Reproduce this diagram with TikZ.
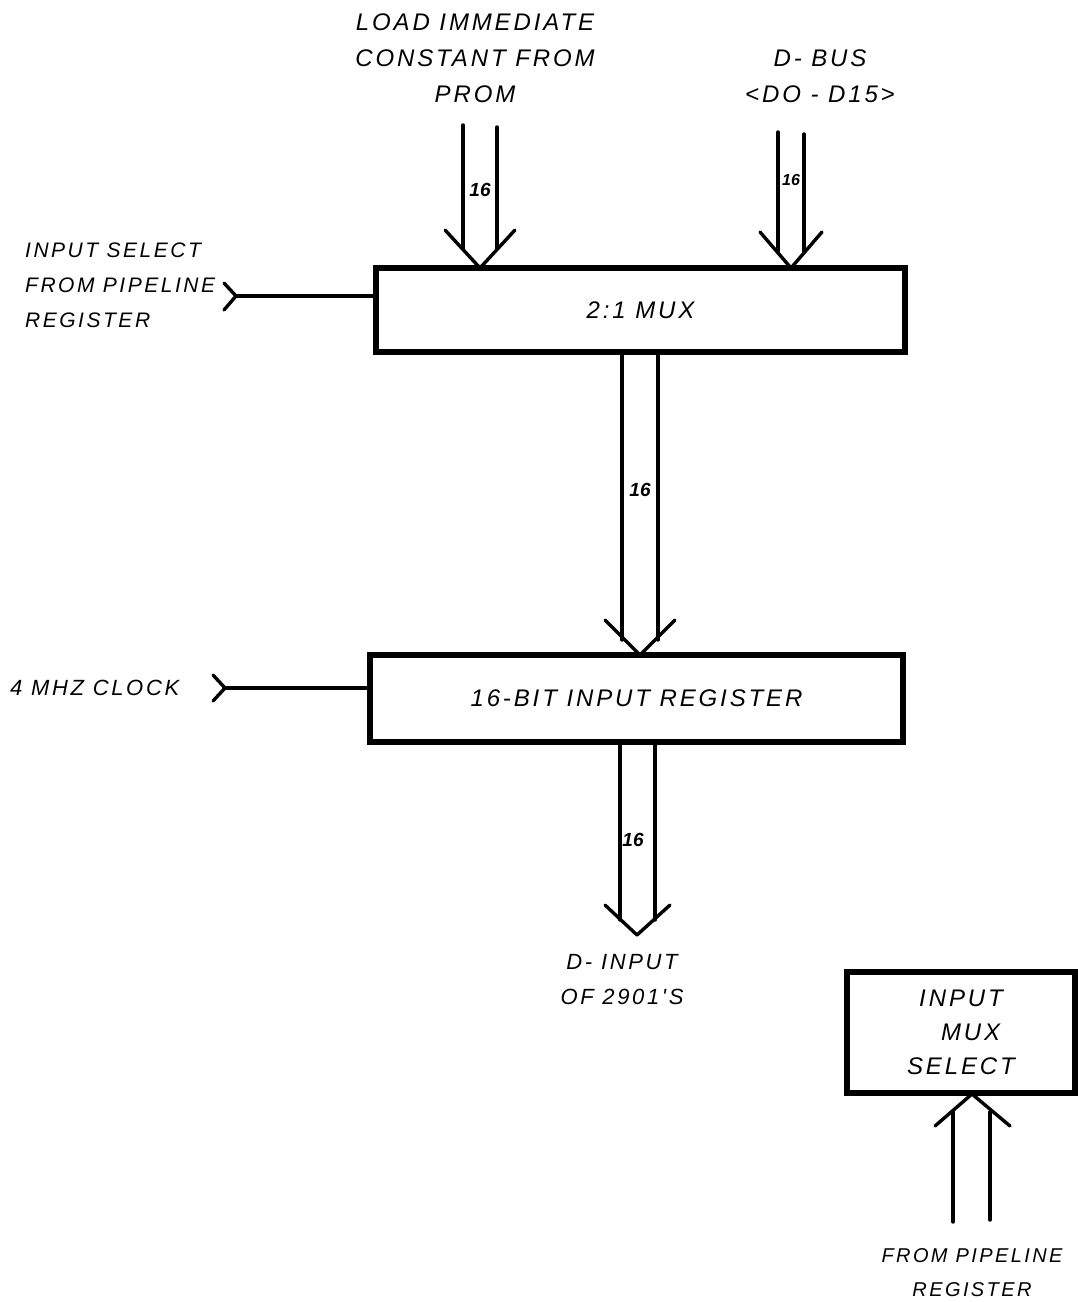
\documentclass[tikz,border=0pt]{standalone}
\usepackage{fontspec}
\setmainfont{Liberation Sans}
\newfontfamily\hand[LetterSpace=12]{Liberation Sans}
\newfontfamily\handnum{Liberation Sans}
\usetikzlibrary{calc}
\begin{document}
\begin{tikzpicture}[x=1pt,y=-1pt,
  txt/.style={font=\hand\itshape\fontsize{24}{36}\selectfont, align=center, inner sep=0pt},
  lft/.style={font=\hand\itshape\fontsize{21}{35}\selectfont, align=left, inner sep=0pt},
  small/.style={font=\handnum\bfseries\itshape\fontsize{19}{20}\selectfont, inner sep=0pt},
  box/.style={draw, line width=6pt, inner sep=0pt, font=\hand\itshape\fontsize{24}{36}\selectfont, align=center},
  busline/.style={line width=3.4pt, line cap=round, line join=round},
  wire/.style={line width=3.4pt, line cap=round, line join=round}]
\useasboundingbox (0,0) rectangle (1078,1302);
\fill[white] (0,0) rectangle (1078,1302);

% boxes
\node[box, minimum width=529pt, minimum height=84pt] (mux) at (640.5,310) {2:1 MUX};
\node[box, minimum width=533pt, minimum height=87pt] (reg) at (636.5,698.5) {16-BIT INPUT REGISTER};
\node[box, minimum width=228pt, minimum height=121pt] (msel) at (961,1032.5) {INPUT\\[-2pt]\ \ MUX\\[-2pt]SELECT};

% labels
\node[txt] (lprom) at (475,58) {LOAD IMMEDIATE\\CONSTANT FROM\\PROM};
\node[txt] (ldbus) at (820,76) {D- BUS\\<DO - D15>};
\node[lft, anchor=west] (lsel) at (25,285) {INPUT SELECT\\FROM PIPELINE\\REGISTER};
\node[lft, anchor=west, font=\hand\itshape\fontsize{22}{35}\selectfont] (lclk) at (10,688) {4 MHZ CLOCK};
\node[txt, font=\hand\itshape\fontsize{22}{35}\selectfont] (lout) at (622,980) {D- INPUT\\OF 2901'S};
\node[txt, font=\hand\itshape\fontsize{20}{34}\selectfont] (lpipe) at (972,1273) {FROM PIPELINE\\REGISTER};

% arrow 1: PROM -> MUX
\coordinate (p1) at (480,268);
\draw[busline] (463,125) -- (463,249);
\draw[busline] (497,127) -- (497,249);
\draw[busline] (445,230) -- (p1) -- (515,230);
\node[small] (n1) at (480,190) {16};

% arrow 2: D-BUS -> MUX
\coordinate (p2) at (791,268);
\draw[busline] (778,132) -- (778,252);
\draw[busline] (804,134) -- (804,252);
\draw[busline] (760,232) -- (p2) -- (822,232);
\node[small, font=\handnum\bfseries\itshape\fontsize{16}{18}\selectfont] (n2) at (791,180) {16};

% arrow 3: MUX -> REG
\coordinate (p3) at (640,655);
\draw[busline] (mux.south -| 622,0) -- (622,640);
\draw[busline] (mux.south -| 658,0) -- (658,640);
\draw[busline] (605,620) -- (p3) -- (675,620);
\node[small] (n3) at (640,490) {16};

% arrow 4: REG -> D-input
\coordinate (p4) at (637,935);
\draw[busline] (reg.south -| 620,0) -- (620,920);
\draw[busline] (reg.south -| 655,0) -- (655,920);
\draw[busline] (605,905) -- (p4) -- (670,905);
\node[small] (n4) at (633,840) {16};

% arrow 5: pipeline -> INPUT MUX SELECT
\coordinate (p5) at (972,1094);
\draw[busline] (953,1222) -- (953,1112);
\draw[busline] (990,1220) -- (990,1112);
\draw[busline] (935,1126) -- (p5) -- (1010,1126);

% input select wire
\coordinate (cs) at (236,296);
\draw[wire] (224,283) -- (cs) -- (224,310);
\draw[wire] (cs) -- (cs -| mux.west);

% clock wire
\coordinate (cc) at (225,688);
\draw[wire] (213,675) -- (cc) -- (213,701);
\draw[wire] (cc) -- (cc -| reg.west);
\end{tikzpicture}
\end{document}
